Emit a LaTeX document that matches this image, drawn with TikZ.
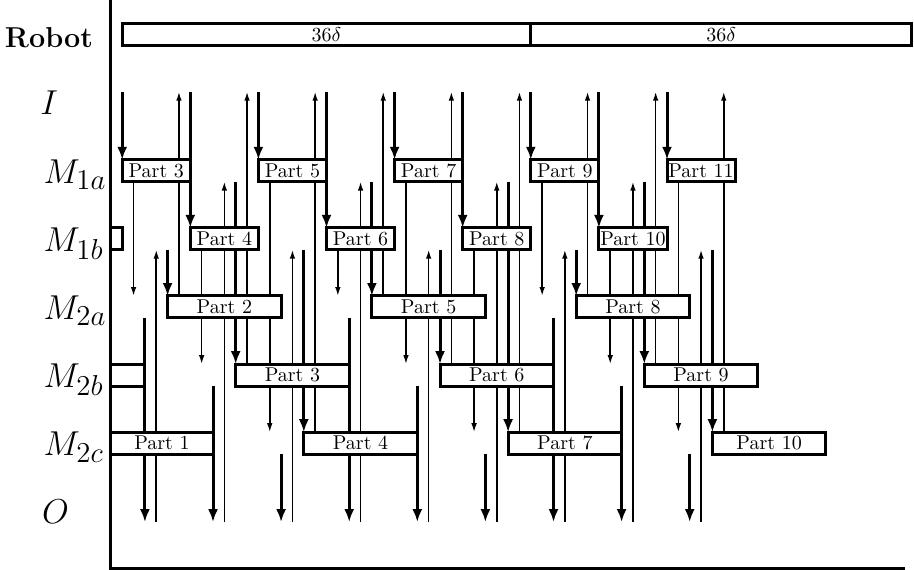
\documentclass[tikz,border=0pt]{standalone}
\usetikzlibrary{arrows.meta}

\begin{document}
\begin{tikzpicture}[
    x=5.675pt,y=-34.05pt,
    partbox/.style={draw,fill=white,line width=1.5pt,minimum height=11pt,inner sep=0pt},
    carry/.style={line width=1.5pt,-{Latex[length=6.5pt,width=5pt]}},
    idle/.style={line width=0.8pt,-{Latex[length=4.5pt,width=2.8pt]}},
    stage/.style={anchor=base west,inner sep=0pt,font=\fontsize{19}{23}\selectfont},
    frame/.style={line width=1.5pt},
  ]
  \def\hh{0.16}
  \useasboundingbox (-10.767,-0.5066) rectangle (69.762,7.863);

  % row labels
  \node[font=\Large\bfseries,inner sep=0pt] (lrobot) at (-6.45,0.05) {Robot};
  \node[stage] (lin) at (-7.25,1.182) {$I$};
  \node[stage] (lm1a) at (-6.95,2.182) {$M_{1a}$};
  \node[stage] (lm1b) at (-6.95,3.182) {$M_{1b}$};
  \node[stage] (lm2a) at (-6.95,4.182) {$M_{2a}$};
  \node[stage] (lm2b) at (-6.95,5.182) {$M_{2b}$};
  \node[stage] (lm2c) at (-6.95,6.182) {$M_{2c}$};
  \node[stage] (lout) at (-7.1,7.182) {$O$};

  % robot moves, six per step of 6 delta
  \foreach \k in {0,...,8}{
    \pgfmathtruncatemacro\ma{2+mod(\k,2)}
    \pgfmathtruncatemacro\mb{3-mod(\k,2)}
    \pgfmathtruncatemacro\mc{4+mod(\k,3)}
    \foreach \j/\sty/\src/\dst in {0/carry/1-\hh/\ma-\hh, 1/idle/\ma+\hh/\mc-\hh,
        2/carry/\mc+\hh/7+\hh, 3/idle/7+\hh/\mb+\hh,
        4/carry/\mb+\hh/\mc-\hh, 5/idle/\mc-\hh/1-\hh}{
      \coordinate (s\k\j) at (6*\k+\j,\src);
      \coordinate (e\k\j) at (6*\k+\j,\dst);
      \draw[\sty] (s\k\j) -- (e\k\j);
    }
  }

  % parts in the machines
  \foreach \k in {0,...,8}{
    \pgfmathtruncatemacro\ma{2+mod(\k,2)}
    \pgfmathtruncatemacro\mc{4+mod(\k,3)}
    \pgfmathtruncatemacro\pa{\k+3}
    \pgfmathtruncatemacro\pb{\k+2}
    \node[partbox,minimum width=6*5.675pt] (m1p\pa) at (6*\k+3,\ma) {Part \pa};
    \node[partbox,minimum width=10*5.675pt] (m2p\pb) at (6*\k+9,\mc) {Part \pb};
  }
  \node[partbox,minimum width=1*5.675pt] (m1p0) at (-0.5,3) {};
  \node[partbox,minimum width=3*5.675pt] (m2p0) at (0.5,5) {};
  \node[partbox,minimum width=9*5.675pt] (m2p1) at (3.5,6) {Part 1};

  % robot cycles
  \node[partbox,minimum width=36*5.675pt] (cyc1) at (18,0) {$36\delta$};
  \node[partbox,minimum width=33.54*5.675pt] (cyc2) at (52.77,0) {$36\delta$};

  \coordinate (axtop) at (-1,-0.5066);
  \coordinate (axbot) at (-1,7.834);
  \coordinate (axend) at (69,7.834);
  \draw[frame] (axtop) -- (axbot) -- (axend);
\end{tikzpicture}
\end{document}
